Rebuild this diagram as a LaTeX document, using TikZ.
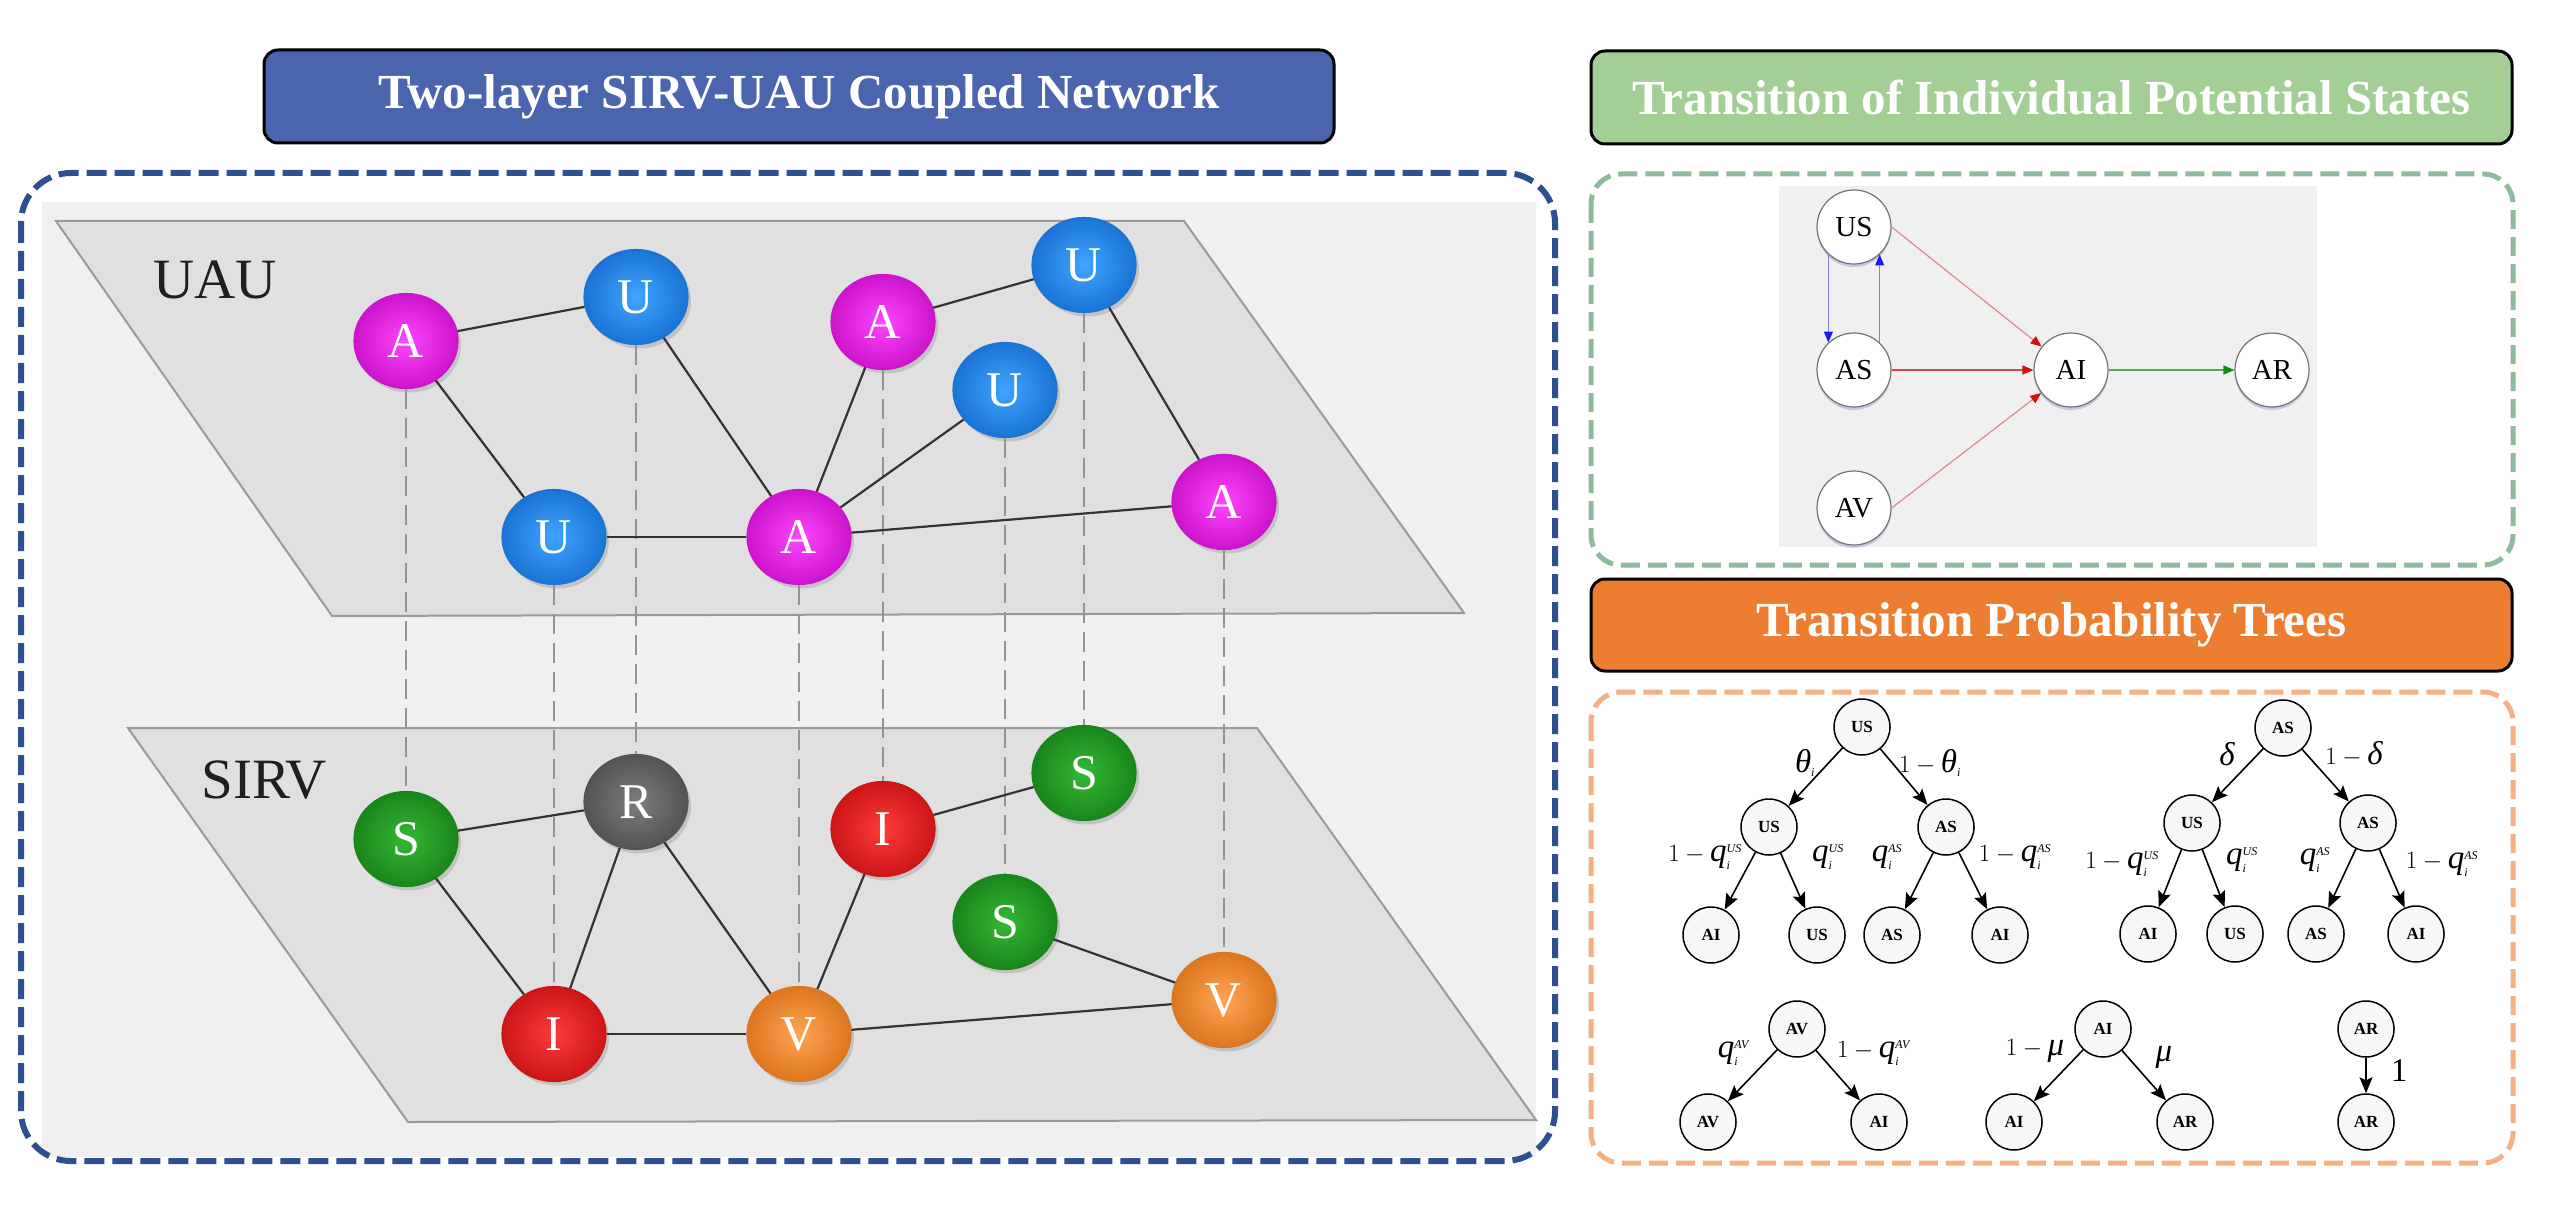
\documentclass[tikz,border=0pt]{standalone}
\usepackage{fontspec}
\setmainfont{Liberation Serif}
\usepackage{amsmath}
\usetikzlibrary{arrows.meta,shadows,shapes.geometric}
\definecolor{titleblue}{HTML}{4A65AD}
\definecolor{titlegreen}{HTML}{A3CF96}
\definecolor{titleorange}{HTML}{ED7D31}
\definecolor{dashblue}{HTML}{2F5090}
\definecolor{dashgreen}{HTML}{8FBA9E}
\definecolor{dashorange}{HTML}{F4B183}
\definecolor{bglight}{HTML}{F0F0F0}
\definecolor{planefill}{HTML}{E0E0E0}
\definecolor{planeedge}{HTML}{9A9A9A}
\definecolor{magin}{HTML}{FF45FF}
\definecolor{magout}{HTML}{CC14CC}
\definecolor{bluin}{HTML}{40A4FF}
\definecolor{bluout}{HTML}{1A74D4}
\definecolor{grnin}{HTML}{34B834}
\definecolor{grnout}{HTML}{1A861A}
\definecolor{gryin}{HTML}{7C7C7C}
\definecolor{gryout}{HTML}{545454}
\definecolor{redin}{HTML}{FF3A3A}
\definecolor{redout}{HTML}{CC1616}
\definecolor{orgin}{HTML}{FFA552}
\definecolor{orgout}{HTML}{DC7620}
\definecolor{arrblue}{HTML}{1A1AF0}
\definecolor{lineblue}{HTML}{8080E6}
\definecolor{arrred}{HTML}{D41010}
\definecolor{linered}{HTML}{E08888}
\definecolor{linereddark}{HTML}{D04848}
\definecolor{arrgreen}{HTML}{109010}
\definecolor{linegreen}{HTML}{50A850}
\newcommand\tinyit[1]{\mbox{\fontsize{12}{12}\selectfont\textit{#1}}}
\tikzset{
  titlebox/.style={draw=black, line width=3pt, rounded corners=14pt, text=white,
    font=\fontsize{49}{56}\selectfont\bfseries, inner sep=0pt, minimum height=93pt},
  ball/.style={ellipse, minimum width=104pt, minimum height=95pt, inner sep=0pt,
    text=white, font=\fontsize{50}{50}\selectfont, line width=1.2pt,
    drop shadow={opacity=0.3, shadow xshift=3pt, shadow yshift=-4pt}},
  magball/.style={ball, inner color=magin, outer color=magout, draw=magout},
  bluball/.style={ball, inner color=bluin, outer color=bluout, draw=bluout},
  grnball/.style={ball, inner color=grnin, outer color=grnout, draw=grnout},
  gryball/.style={ball, inner color=gryin, outer color=gryout, draw=gryout},
  redball/.style={ball, inner color=redin, outer color=redout, draw=redout},
  orgball/.style={ball, inner color=orgin, outer color=orgout, draw=orgout},
  link/.style={draw=black!80, line width=2.2pt},
  vlink/.style={draw=black!42, line width=1.6pt, dash pattern=on 20pt off 9pt},
  planelabel/.style={font=\fontsize{57}{57}\selectfont, text=black!88, inner sep=0pt},
  stnode/.style={circle, minimum size=74pt, inner sep=0pt, draw=black!55, line width=1.2pt,
    fill=white, font=\fontsize{29}{29}\selectfont,
    drop shadow={opacity=0.25, fill=blue!40!gray, shadow xshift=0pt, shadow yshift=-3pt}},
  bluearr/.style={draw=lineblue, line width=1.4pt, -{Triangle[length=11pt,width=9pt,color=arrblue]}},
  redarr/.style={draw=linered, line width=1.2pt, -{Triangle[length=11pt,width=9pt,color=arrred]}},
  reddarr/.style={draw=linereddark, line width=1.6pt, -{Triangle[length=11pt,width=9pt,color=arrred]}},
  grnarr/.style={draw=linegreen, line width=1.4pt, -{Triangle[length=11pt,width=9pt,color=arrgreen]}},
  tnode/.style={circle, minimum size=56pt, inner sep=0pt, draw=black, line width=1.5pt,
    fill=black!3, font=\fontsize{17}{17}\selectfont\bfseries},
  tarr/.style={draw=black, line width=1.6pt, -{Stealth[length=16pt,width=13pt,inset=3pt]}},
  lab/.style={font=\fontsize{33}{33}\selectfont, inner sep=0pt}
}
\begin{document}
\begin{tikzpicture}[x=1pt,y=-1pt]
\useasboundingbox (0,0) rectangle (2556,1230);
\fill[white] (0,0) rectangle (2556,1230);

% ---------------- left panel ----------------
\fill[bglight] (42,202) rectangle (1536,1157);
\draw[dashblue, line width=6pt, dash pattern=on 20pt off 8pt, rounded corners=50pt] (21,173) rectangle (1555,1161);
\node[titlebox, fill=titleblue, minimum width=1070pt] (t1) at (799,96.5) {Two-layer SIRV-UAU Coupled Network};

\filldraw[fill=planefill, draw=planeedge, line width=2pt] (56,221) -- (1184,221) -- (1464,613) -- (332,616) -- cycle;
\filldraw[fill=planefill, draw=planeedge, line width=2pt] (128,728) -- (1257,728) -- (1536,1120) -- (408,1122) -- cycle;
\node[planelabel] (uaulab) at (215,280) {UAU};
\node[planelabel] (sirvlab) at (264,780) {SIRV};

% UAU layer
\node[magball] (A1) at (406,341) {A};
\node[bluball] (U1) at (636,297) {U};
\node[magball] (A2) at (883,322) {A};
\node[bluball] (U2) at (1084,265) {U};
\node[bluball] (U3) at (1005,390) {U};
\node[bluball] (U4) at (554,537) {U};
\node[magball] (A3) at (799,537) {A};
\node[magball] (A4) at (1224,502) {A};
% SIRV layer
\node[grnball] (S1) at (406,839) {S};
\node[gryball] (R1) at (636,802) {R};
\node[redball] (I1) at (883,829) {I};
\node[grnball] (S2) at (1084,773) {S};
\node[grnball] (S3) at (1005,922) {S};
\node[redball] (I2) at (554,1034) {I};
\node[orgball] (V1) at (799,1034) {V};
\node[orgball] (V2) at (1224,1000) {V};

% inter-layer links
\foreach \a/\b in {A1/S1,U1/R1,A2/I1,U2/S2,U3/S3,U4/I2,A3/V1,A4/V2}
  \draw[vlink] (\a) -- (\b);
% UAU links
\foreach \a/\b in {A1/U1,A1/U4,U1/A3,A2/U2,A2/A3,U3/A3,U2/A4,U4/A3,A3/A4}
  \draw[link] (\a) -- (\b);
% SIRV links
\foreach \a/\b in {S1/R1,S1/I2,R1/I2,R1/V1,I1/S2,I1/V1,S3/V2,I2/V1,V1/V2}
  \draw[link] (\a) -- (\b);

% ---------------- top right panel ----------------
\node[titlebox, fill=titlegreen, minimum width=921pt] (t2) at (2051.5,97.5) {Transition of Individual Potential States};
\draw[dashgreen, line width=5pt, dash pattern=on 19pt off 8pt, rounded corners=30pt] (1591,174) rectangle (2513,565);
\fill[bglight] (1779,186) rectangle (2317,547);
\node[stnode] (US) at (1854,227) {US};
\node[stnode] (AS) at (1854,370) {AS};
\node[stnode] (AV) at (1854,508) {AV};
\node[stnode] (AI) at (2071,370) {AI};
\node[stnode] (AR) at (2272,370) {AR};
\draw[bluearr] (US.227) -- (AS.133);
\draw[bluearr] (AS.47) -- (US.313);
\draw[redarr] (US.east) -- (AI);
\draw[reddarr] (AS) -- (AI);
\draw[redarr] (AV.east) -- (AI);
\draw[grnarr] (AI) -- (AR);

% ---------------- bottom right panel ----------------
\node[titlebox, fill=titleorange, minimum width=921pt, minimum height=92pt] (t3) at (2051.5,625) {Transition Probability Trees};
\draw[dashorange, line width=5pt, dash pattern=on 19pt off 8pt, rounded corners=30pt] (1591,692) rectangle (2513,1163);

% tree 1
\node[tnode] (r1) at (1862,727) {US};
\node[tnode] (a1) at (1769,827) {US};
\node[tnode] (b1) at (1946,827) {AS};
\node[tnode] (a1l) at (1711,935) {AI};
\node[tnode] (a1r) at (1817,935) {US};
\node[tnode] (b1l) at (1892,935) {AS};
\node[tnode] (b1r) at (2000,935) {AI};
\draw[tarr] (r1) -- (a1);
\draw[tarr] (r1) -- (b1);
\draw[tarr] (a1) -- (a1l);
\draw[tarr] (a1) -- (a1r);
\draw[tarr] (b1) -- (b1l);
\draw[tarr] (b1) -- (b1r);
\node[lab] (l1a) at (1805,763) {$\textit{θ}_{\tinyit{i}}$};
\node[lab] (l1b) at (1930,763) {$1-\textit{θ}_{\tinyit{i}}$};
\node[lab] (l1c) at (1705,857) {$1-\textit{q}_{\tinyit{i}}^{\tinyit{US}}$};
\node[lab] (l1d) at (1828,857) {$\textit{q}_{\tinyit{i}}^{\tinyit{US}}$};
\node[lab] (l1e) at (1887,857) {$\textit{q}_{\tinyit{i}}^{\tinyit{AS}}$};
\node[lab] (l1f) at (2015,857) {$1-\textit{q}_{\tinyit{i}}^{\tinyit{AS}}$};

% tree 2
\node[tnode] (r2) at (2283,728) {AS};
\node[tnode] (a2) at (2192,823) {US};
\node[tnode] (b2) at (2368,823) {AS};
\node[tnode] (a2l) at (2148,934) {AI};
\node[tnode] (a2r) at (2235,934) {US};
\node[tnode] (b2l) at (2316,934) {AS};
\node[tnode] (b2r) at (2416,934) {AI};
\draw[tarr] (r2) -- (a2);
\draw[tarr] (r2) -- (b2);
\draw[tarr] (a2) -- (a2l);
\draw[tarr] (a2) -- (a2r);
\draw[tarr] (b2) -- (b2l);
\draw[tarr] (b2) -- (b2r);
\node[lab] (l2a) at (2227,754) {$\textit{δ}$};
\node[lab] (l2b) at (2354,754) {$1-\textit{δ}$};
\node[lab] (l2c) at (2122,864) {$1-\textit{q}_{\tinyit{i}}^{\tinyit{US}}$};
\node[lab] (l2d) at (2242,860) {$\textit{q}_{\tinyit{i}}^{\tinyit{US}}$};
\node[lab] (l2e) at (2315,860) {$\textit{q}_{\tinyit{i}}^{\tinyit{AS}}$};
\node[lab] (l2f) at (2442,864) {$1-\textit{q}_{\tinyit{i}}^{\tinyit{AS}}$};

% tree 3
\node[tnode] (r3) at (1797,1029) {AV};
\node[tnode] (a3) at (1708,1122) {AV};
\node[tnode] (b3) at (1879,1122) {AI};
\draw[tarr] (r3) -- (a3);
\draw[tarr] (r3) -- (b3);
\node[lab] (l3a) at (1734,1053) {$\textit{q}_{\tinyit{i}}^{\tinyit{AV}}$};
\node[lab] (l3b) at (1874,1053) {$1-\textit{q}_{\tinyit{i}}^{\tinyit{AV}}$};

% tree 4
\node[tnode] (r4) at (2103,1029) {AI};
\node[tnode] (a4) at (2014,1122) {AI};
\node[tnode] (b4) at (2185,1122) {AR};
\draw[tarr] (r4) -- (a4);
\draw[tarr] (r4) -- (b4);
\node[lab] (l4a) at (2035,1051) {$1-\textit{μ}$};
\node[lab] (l4b) at (2164,1057) {$\textit{μ}$};

% tree 5
\node[tnode] (r5) at (2366,1029) {AR};
\node[tnode] (a5) at (2366,1122) {AR};
\draw[tarr] (r5) -- (a5);
\node[lab] (l5a) at (2399,1071) {1};
\end{tikzpicture}
\end{document}
